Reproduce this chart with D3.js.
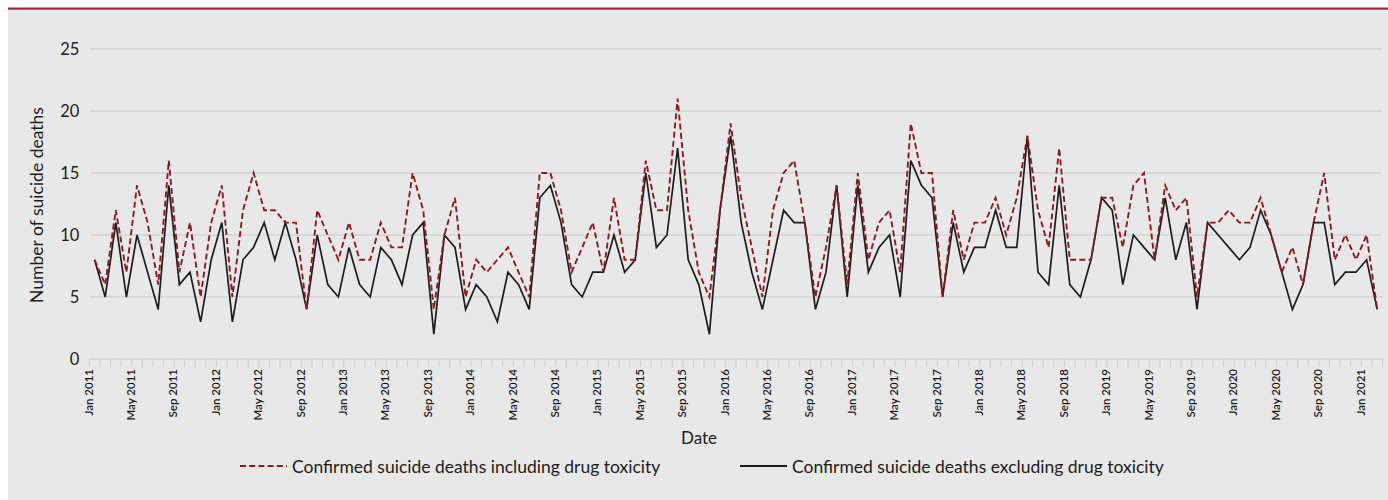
<!DOCTYPE html>
<html>
<head>
<meta charset="utf-8">
<script src="https://cdn.jsdelivr.net/npm/d3@7"></script>
<style>
  html, body { margin: 0; padding: 0; background: #ffffff; }
  svg { display: block; }
  text { font-family: "Lato", "Liberation Sans", sans-serif; fill: #1e1b1c; }
</style>
</head>
<body>
<svg id="chart" width="1388" height="500"></svg>
<script>
// Monthly confirmed suicide deaths, Jan 2011 – Feb 2021
const startMonth = new Date(2011, 0, 1);
const endMonth = new Date(2021, 2, 1); // exclusive
const months = d3.timeMonth.range(startMonth, endMonth);

const includingDrugToxicity = [
  8, 6, 12, 7, 14, 11, 6, 16, 7, 11, 5, 11,      // 2011
  14, 5, 12, 15, 12, 12, 11, 11, 4, 12, 10, 8,   // 2012
  11, 8, 8, 11, 9, 9, 15, 12, 4, 10, 13, 5,      // 2013
  8, 7, 8, 9, 7, 5, 15, 15, 12, 7, 9, 11,        // 2014
  7, 13, 8, 8, 16, 12, 12, 21, 12, 7, 5, 12,     // 2015
  19, 13, 9, 5, 12, 15, 16, 11, 5, 9, 14, 6,     // 2016
  15, 8, 11, 12, 7, 19, 15, 15, 5, 12, 8, 11,    // 2017
  11, 13, 10, 13, 18, 12, 9, 17, 8, 8, 8, 13,    // 2018
  13, 9, 14, 15, 8, 14, 12, 13, 5, 11, 11, 12,   // 2019
  11, 11, 13, 10, 7, 9, 6, 11, 15, 8, 10, 8,     // 2020
  10, 4                                          // 2021
];

const excludingDrugToxicity = [
  8, 5, 11, 5, 10, 7, 4, 14, 6, 7, 3, 8,         // 2011
  11, 3, 8, 9, 11, 8, 11, 8, 4, 10, 6, 5,        // 2012
  9, 6, 5, 9, 8, 6, 10, 11, 2, 10, 9, 4,         // 2013
  6, 5, 3, 7, 6, 4, 13, 14, 11, 6, 5, 7,         // 2014
  7, 10, 7, 8, 15, 9, 10, 17, 8, 6, 2, 12,       // 2015
  18, 11, 7, 4, 8, 12, 11, 11, 4, 7, 14, 5,      // 2016
  14, 7, 9, 10, 5, 16, 14, 13, 5, 11, 7, 9,      // 2017
  9, 12, 9, 9, 18, 7, 6, 14, 6, 5, 8, 13,        // 2018
  12, 6, 10, 9, 8, 13, 8, 11, 4, 11, 10, 9,      // 2019
  8, 9, 12, 10, 7, 4, 6, 11, 11, 6, 7, 7,        // 2020
  8, 4                                           // 2021
];

const yTicks = [0, 5, 10, 15, 20, 25];
const labelEvery = 4; // Jan, May, Sep
const seriesNames = [
  "Confirmed suicide deaths including drug toxicity",
  "Confirmed suicide deaths excluding drug toxicity"
];

const fmtMonth = d3.timeFormat("%b %Y");
const categories = months.map(fmtMonth);

const svg = d3.select("#chart");
const W = 1388, H = 500;

const RED = "#8b1a1e", BLACK = "#1c1c1c", RULE = "#cfd0cf";

// panel background and top rule
svg.append("rect").attr("x", 8).attr("y", 9).attr("width", W - 8).attr("height", H - 9)
  .attr("fill", "#e7e8e7");
svg.append("rect").attr("x", 8).attr("y", 7.5).attr("width", W - 8).attr("height", 2.2)
  .attr("fill", "#9e2a2b");

const plot = { left: 89.3, right: 1382.5, top: 49, bottom: 359 };

const x = d3.scaleBand().domain(categories).range([plot.left, plot.right]).padding(0);
const y = d3.scaleLinear().domain([0, 25]).range([plot.bottom, plot.top]);
const cx = d => x(d) + x.bandwidth() / 2;

// horizontal gridlines
svg.append("g").selectAll("line").data(yTicks.filter(t => t > 0)).join("line")
  .attr("x1", plot.left).attr("x2", plot.right)
  .attr("y1", d => y(d)).attr("y2", d => y(d))
  .attr("stroke", "#d2d3d2").attr("stroke-width", 1.5);

// y axis labels
const yAxis = d3.axisLeft(y).tickValues(yTicks).tickSize(0).tickPadding(10);
const gy = svg.append("g").attr("transform", `translate(${plot.left},0)`).call(yAxis);
gy.select(".domain").remove();
gy.selectAll("text").style("font-size", "16.5px").attr("fill", "#1e1b1c")
  .style("font-family", null);

// x axis with ticks on category boundaries
const gx = svg.append("g").attr("transform", `translate(0,${plot.bottom})`);
gx.append("line").attr("x1", plot.left).attr("x2", plot.right + 1)
  .attr("stroke", RULE).attr("stroke-width", 1.5);
const boundaries = categories.map(c => x(c)).concat([plot.right]);
gx.selectAll("line.tick").data(boundaries).join("line").attr("class", "tick")
  .attr("x1", d => d).attr("x2", d => d).attr("y1", 0).attr("y2", 8)
  .attr("stroke", RULE).attr("stroke-width", 1.2);
gx.selectAll("text.lbl")
  .data(categories.filter((c, i) => i % labelEvery === 0))
  .join("text").attr("class", "lbl")
  .attr("transform", d => `translate(${cx(d) - 6.5},${10}) rotate(-90)`)
  .attr("text-anchor", "end").attr("dominant-baseline", "central")
  .style("font-size", "11.5px").style("font-weight", "600")
  .text(d => d);

// axis titles
svg.append("text").attr("transform", `translate(36,${(plot.top + plot.bottom) / 2 + 1}) rotate(-90)`)
  .attr("text-anchor", "middle").attr("dominant-baseline", "central")
  .style("font-size", "17.5px").text("Number of suicide deaths");
svg.append("text").attr("x", 699).attr("y", 444).attr("text-anchor", "middle")
  .style("font-size", "17px").text("Date");

// series lines
const line = d3.line().x((d, i) => cx(categories[i])).y(d => y(d));
svg.append("path").datum(excludingDrugToxicity).attr("d", line)
  .attr("fill", "none").attr("stroke", BLACK).attr("stroke-width", 1.7)
  .attr("stroke-linejoin", "miter");
svg.append("path").datum(includingDrugToxicity).attr("d", line)
  .attr("fill", "none").attr("stroke", RED).attr("stroke-width", 1.9)
  .attr("stroke-dasharray", "6,3.2");

// legend
const legend = svg.append("g").attr("transform", "translate(0,466)");
const legendItems = [
  { x: 240, name: seriesNames[0], color: RED, dash: "6,3.2" },
  { x: 740, name: seriesNames[1], color: BLACK, dash: null }
];
legendItems.forEach(it => {
  legend.append("line").attr("x1", it.x).attr("x2", it.x + 47).attr("y1", 0).attr("y2", 0)
    .attr("stroke", it.color).attr("stroke-width", 1.8)
    .attr("stroke-dasharray", it.dash);
  legend.append("text").attr("x", it.x + 52).attr("y", 0).attr("dominant-baseline", "central")
    .style("font-size", "17.5px").text(it.name);
});
</script>
</body>
</html>
